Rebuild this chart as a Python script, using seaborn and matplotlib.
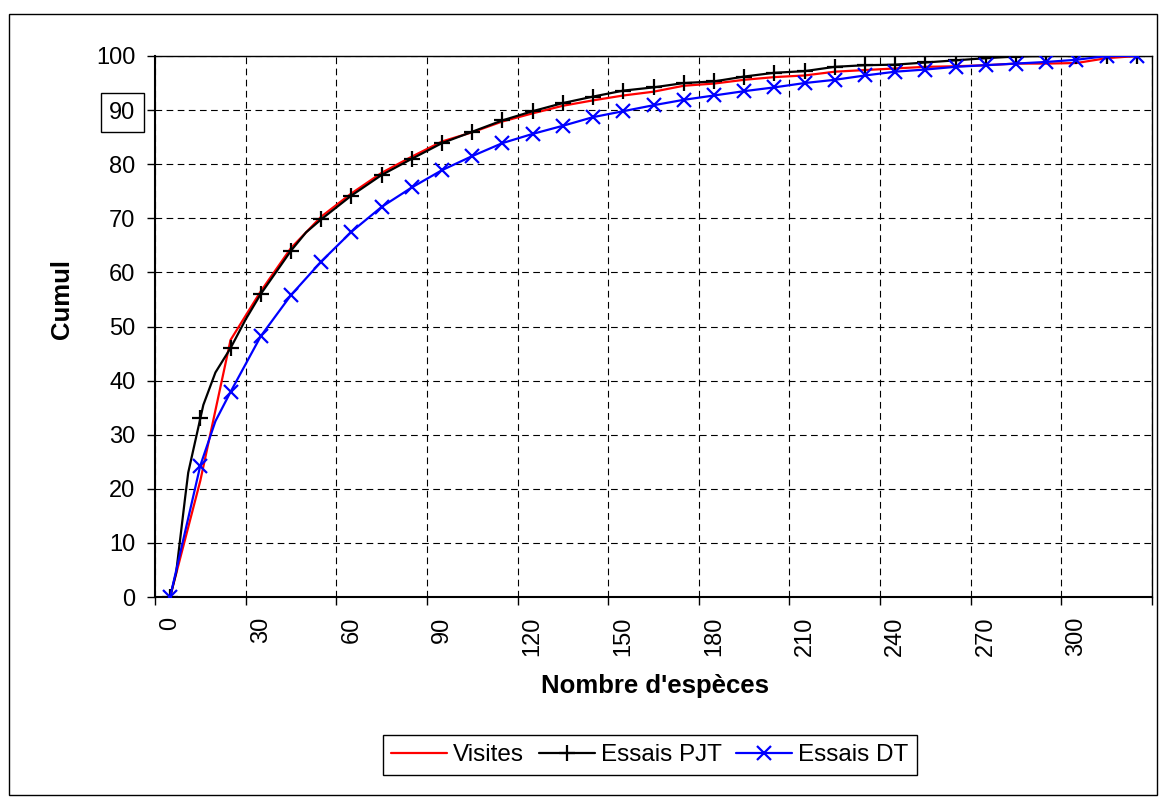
import numpy as np
import pandas as pd
import matplotlib
matplotlib.use("Agg")
import matplotlib.pyplot as plt
import seaborn as sns
from matplotlib.lines import Line2D
from matplotlib.patches import Rectangle
from matplotlib.ticker import FixedLocator, NullFormatter

# ---------------- data ----------------
visites_x = [0, 10, 20, 30, 40, 50, 60, 70, 80, 90, 100, 110, 120, 130, 140, 150, 160,
             170, 180, 190, 200, 210, 220, 230, 240, 250, 260, 270, 280, 290, 300, 310, 320]
visites_y = [0, 21.5, 47.5, 56.5, 64.5, 70.3, 74.6, 78.4, 81.4, 84.2, 85.9, 87.9, 89.4, 90.8,
             91.8, 92.7, 93.4, 94.5, 94.9, 95.6, 96.1, 96.4, 97.1, 97.4, 97.7, 98.0, 98.1,
             98.3, 98.6, 98.6, 98.7, 99.6, 100]

pjt_x = [0, 2, 5, 6, 8, 10, 11, 14, 15, 20, 25, 30, 40, 45, 50, 60, 70, 80, 90, 100, 110,
         120, 130, 140, 150, 160, 170, 180, 190, 200, 210, 220, 230, 240, 250, 260, 270,
         280, 290, 300, 310, 320]
pjt_y = [0, 4.5, 18.5, 23, 28, 33, 35.5, 40, 41.5, 46, 51.3, 56, 64, 67.4, 69.8, 74.2, 78.0,
         81.0, 83.9, 86.0, 88.1, 89.8, 91.3, 92.5, 93.6, 94.2, 95.0, 95.3, 96.2, 96.9, 97.2,
         98.0, 98.3, 98.4, 98.8, 99.2, 99.6, 99.9, 100, 100, 100, 100]

dt_x = [0, 10, 15, 20, 30, 40, 50, 60, 70, 80, 90, 100, 110, 120, 130, 140, 150, 160, 170,
        180, 190, 200, 210, 220, 230, 240, 250, 260, 270, 280, 290, 300, 310, 320]
dt_y = [0, 24.3, 32.5, 37.9, 48.2, 55.8, 62.0, 67.5, 72.1, 75.7, 78.9, 81.5, 83.9, 85.6,
        87.1, 88.7, 89.8, 90.9, 91.9, 92.7, 93.5, 94.2, 95.0, 95.6, 96.4, 97.1, 97.5, 98.0,
        98.3, 98.6, 98.9, 99.3, 100, 100]

series_names = ["Visites", "Essais PJT", "Essais DT"]
xtick_values = [0, 30, 60, 90, 120, 150, 180, 210, 240, 270, 300]
ytick_values = [0, 10, 20, 30, 40, 50, 60, 70, 80, 90, 100]
x_label = "Nombre d'espèces"
y_label = "Cumul"

# ---------------- style ----------------
sns.set_style("white")
plt.rcParams["font.family"] = ["Liberation Sans", "DejaVu Sans"]
for k in ["text.color", "axes.labelcolor", "xtick.color", "ytick.color", "axes.edgecolor"]:
    plt.rcParams[k] = "black"

W, H = 1159, 798
fig = plt.figure(figsize=(W / 100, H / 100), dpi=100)
ax = fig.add_axes([155 / W, 1 - 597 / H, (1152 - 155) / W, (597 - 56) / H])

RED, BLACK, BLUE = "#FF0000", "#000000", "#0000FF"

df_v = pd.DataFrame({"x": visites_x, "y": visites_y})
df_p = pd.DataFrame({"x": pjt_x, "y": pjt_y})
df_d = pd.DataFrame({"x": dt_x, "y": dt_y})

sns.lineplot(data=df_v, x="x", y="y", ax=ax, color=RED, lw=1.6,
             estimator=None, sort=False, zorder=3)
p_marks = [i for i, v in enumerate(pjt_x) if v % 10 == 0]
sns.lineplot(data=df_p, x="x", y="y", ax=ax, color=BLACK, lw=1.6,
             estimator=None, sort=False, marker="+", markersize=12, mew=1.6,
             mec=BLACK, mfc=BLACK, markevery=p_marks, zorder=4)
d_marks = [i for i, v in enumerate(dt_x) if v % 10 == 0]
sns.lineplot(data=df_d, x="x", y="y", ax=ax, color=BLUE, lw=1.6,
             estimator=None, sort=False, marker="x", markersize=10.5, mew=1.6,
             mec=BLUE, mfc=BLUE, markevery=d_marks, zorder=5)

# ---------------- axes ----------------
ax.set_xlim(-5, 325)
ax.set_ylim(0, 100)

boundaries = [v - 5 for v in xtick_values] + [325]
ax.xaxis.set_major_locator(FixedLocator(boundaries))
ax.xaxis.set_major_formatter(NullFormatter())
ax.set_xticks(xtick_values, labels=[str(v) for v in xtick_values], minor=True)
ax.tick_params(axis="x", which="major", direction="out", length=6, width=1,
               color="black", bottom=True)
ax.tick_params(axis="x", which="minor", length=0, pad=14, labelsize=17,
               labelrotation=90, bottom=True, labelcolor="black")

ax.set_yticks(ytick_values, labels=[str(v) for v in ytick_values])
ax.tick_params(axis="y", which="major", direction="out", length=6, width=1,
               color="black", pad=8, labelsize=17, left=True, labelcolor="black")
for lab in ax.get_yticklabels():
    if lab.get_text() == "90":
        lab.set_bbox(dict(boxstyle="square,pad=0.35", fc="white", ec="black", lw=1))

grid_kw = dict(color="black", lw=0.8, ls=(0, (6, 4)))
ax.yaxis.grid(True, which="major", **grid_kw)
ax.xaxis.grid(True, which="major", **grid_kw)
ax.set_axisbelow(True)

for side, lw in [("left", 1.5), ("bottom", 1.5), ("top", 1.0), ("right", 1.0)]:
    ax.spines[side].set_visible(True)
    ax.spines[side].set_color("black")
    ax.spines[side].set_linewidth(lw)

ax.set_xlabel(x_label, fontsize=18.5, fontweight="bold", color="black")
ax.xaxis.set_label_coords(0.502, -0.142)
ax.set_ylabel(y_label, fontsize=18.5, fontweight="bold", color="black")
ax.yaxis.set_label_coords(-0.081, 0.55)

# ---------------- legend ----------------
handles = [
    Line2D([], [], color=RED, lw=1.6),
    Line2D([], [], color=BLACK, lw=1.6, marker="+", markersize=12, mew=1.6),
    Line2D([], [], color=BLUE, lw=1.6, marker="x", markersize=10.5, mew=1.6),
]
leg = fig.legend(handles, series_names, loc="center",
                 bbox_to_anchor=(650 / W, 1 - 755 / H), ncol=3, fontsize=17.5,
                 frameon=True, fancybox=False, framealpha=1, edgecolor="black",
                 handlelength=2.3, handletextpad=0.25, columnspacing=0.6,
                 borderpad=0.35, borderaxespad=0)
leg.get_frame().set_linewidth(1.0)
for t in leg.get_texts():
    t.set_color("black")

# outer chart border
fig.patches.append(Rectangle((9 / W, 3 / H), (1157 - 9) / W, (795 - 14) / H,
                             transform=fig.transFigure, fill=False,
                             ec="black", lw=1.0))

fig.savefig("out.png", dpi=100, facecolor="white")
